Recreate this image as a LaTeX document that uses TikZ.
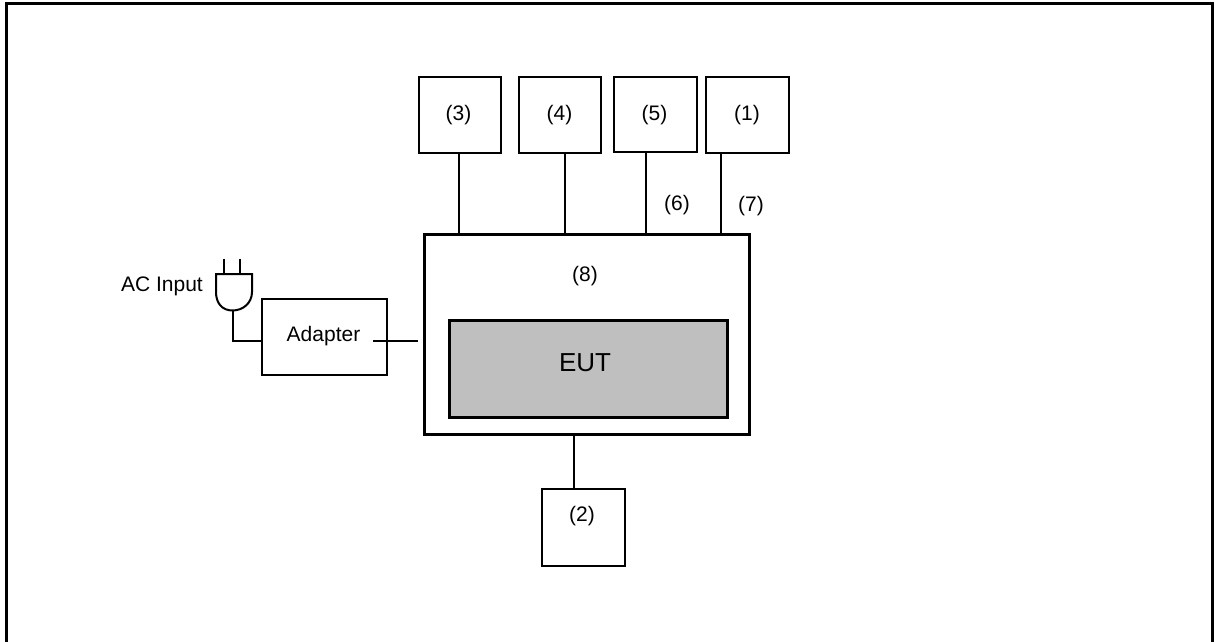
\documentclass[tikz,border=0pt]{standalone}
\usepackage{fontspec}
\setmainfont{Liberation Sans}
\tikzset{
 unitbox/.style={draw=black,line width=2.1pt,fill=white,inner sep=0pt,anchor=north west},
 wire/.style={draw=black,line width=2pt,line cap=butt},
 lab/.style={inner sep=0pt,font=\fontsize{21}{25}\selectfont,text=black},
}
\begin{document}
\begin{tikzpicture}[x=1pt,y=-1pt]
\useasboundingbox (0,0) rectangle (1215,641);
\draw[black,line width=3pt] (6.5,645) -- (6.5,3.5) -- (1212.5,3.5) -- (1212.5,645);
\node[unitbox,minimum width=82.5pt,minimum height=75.5pt] (b3) at (417.5,76) {};
\node[unitbox,minimum width=82.5pt,minimum height=75.5pt] (b4) at (517.5,76) {};
\node[unitbox,minimum width=82.5pt,minimum height=74.5pt] (b5) at (613,76) {};
\node[unitbox,minimum width=82.5pt,minimum height=75.5pt] (b1) at (705,76) {};
\node[unitbox,line width=3pt,minimum width=325pt,minimum height=200pt] (main) at (423,232.5) {};
\node[unitbox,line width=3pt,fill=black!25,minimum width=277.5pt,minimum height=97.5pt] (eut) at (448,318.5) {};
\node[unitbox,minimum width=82.5pt,minimum height=76.5pt] (b2) at (541,488) {};
\node[unitbox,minimum width=125pt,minimum height=75.5pt] (adapter) at (261,298) {};
\node[lab] at (458.5,115) (t3) {(3)};
\node[lab] at (559.5,115) (t4) {(4)};
\node[lab] at (654.5,115) (t5) {(5)};
\node[lab] at (747,115) (t1) {(1)};
\node[lab] at (677,205) (t6) {(6)};
\node[lab] at (751,206) (t7) {(7)};
\node[lab] at (585,276) (t8) {(8)};
\node[lab] at (582,516) (t2) {(2)};
\node[lab] at (323.5,336) (tad) {Adapter};
\node[lab] at (162,286) (tac) {AC Input};
\node[inner sep=0pt,font=\fontsize{26}{30}\selectfont] at (585,363) (teut) {EUT};
\draw[wire] (b3.south -| 459,0) -- (main.north -| 459,0);
\draw[wire] (b4.south -| 565,0) -- (main.north -| 565,0);
\draw[wire] (b5.south -| 645.5,0) -- (main.north -| 645.5,0);
\draw[wire] (b1.south -| 720.5,0) -- (main.north -| 720.5,0);
\draw[wire] (main.south -| 574,0) -- (b2.north -| 574,0);
\coordinate (adin) at (373,341);
\coordinate (mainin) at (418,341);
\draw[wire] (adin) -- (mainin);
% plug
\coordinate (plugtip) at (232.5,310.5);
\draw[wire] (plugtip) -- (232.5,341) -- (adapter.west |- 0,341);
\draw[black,line width=2pt] (216,274) -- (252,274) -- (252,292) .. controls (252,303) and (243,310.5) .. (plugtip) .. controls (222,310.5) and (216,303) .. (216,292) -- cycle;
\draw[black,line width=2pt] (224,258.5) -- (224,274) (240,258.5) -- (240,274);
\end{tikzpicture}
\end{document}
